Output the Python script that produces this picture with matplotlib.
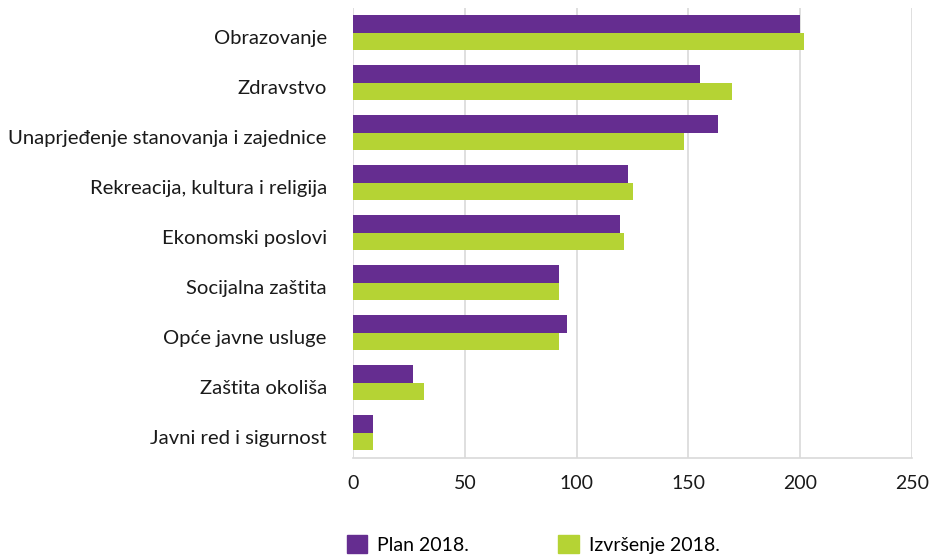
import numpy as np
import matplotlib.pyplot as plt
import matplotlib.transforms as mtransforms
from matplotlib.patches import Patch

categories = ["Obrazovanje", "Zdravstvo", "Unaprjeđenje stanovanja i zajednice",
              "Rekreacija, kultura i religija", "Ekonomski poslovi", "Socijalna zaštita",
              "Opće javne usluge", "Zaštita okoliša", "Javni red i sigurnost"]
plan = [200, 155, 163, 123, 119.5, 92, 95.7, 26.8, 9]
izvrsenje = [201.7, 169.5, 148, 125, 121, 92, 92, 31.8, 9]
xticks = [0, 50, 100, 150, 200, 250]

purple = "#652D90"
green = "#B5D334"

plt.rcParams['font.family'] = ['Lato', 'DejaVu Sans']

fig = plt.figure(figsize=(9.32, 5.55), dpi=100)
ax = fig.add_axes([0.379, 0.175, 0.5995, 0.8106])

y = np.arange(len(categories))
h = 0.35
ax.barh(y - h/2, plan, height=h, color=purple, zorder=3)
ax.barh(y + h/2, izvrsenje, height=h, color=green, zorder=3)

ax.set_ylim(len(categories) - 0.5, -0.5)
ax.set_xlim(0, 250)
ax.set_yticks(y)
ax.set_yticklabels(categories, fontsize=14.6, color="#1a1a1a")
ax.set_xticks(xticks)
ax.set_xticklabels([str(t) for t in xticks], fontsize=14, color="#1a1a1a")
ax.tick_params(axis='both', length=0)
ax.tick_params(axis='y', pad=19)
ax.tick_params(axis='x', pad=12)
# nudge category labels a little down
off = mtransforms.ScaledTranslation(0, -3/72, fig.dpi_scale_trans)
for lab in ax.get_yticklabels():
    lab.set_transform(lab.get_transform() + off)
ax.grid(axis='x', color="#d9d9d9", linewidth=1.2, zorder=0)
for s in ['top', 'right', 'left']:
    ax.spines[s].set_visible(False)
ax.spines['bottom'].set_color("#d9d9d9")
ax.spines['bottom'].set_linewidth(1.2)

handles = [Patch(color=purple, label="Plan 2018."), Patch(color=green, label="Izvršenje 2018.")]
fig.legend(handles=handles, loc='lower left', bbox_to_anchor=(0.3723, 0.002), ncol=2,
           frameon=False, fontsize=14, handlelength=1.05, handleheight=1.05,
           columnspacing=4.6, handletextpad=0.5, borderpad=0, borderaxespad=0)

plt.savefig("out.png", dpi=100)
